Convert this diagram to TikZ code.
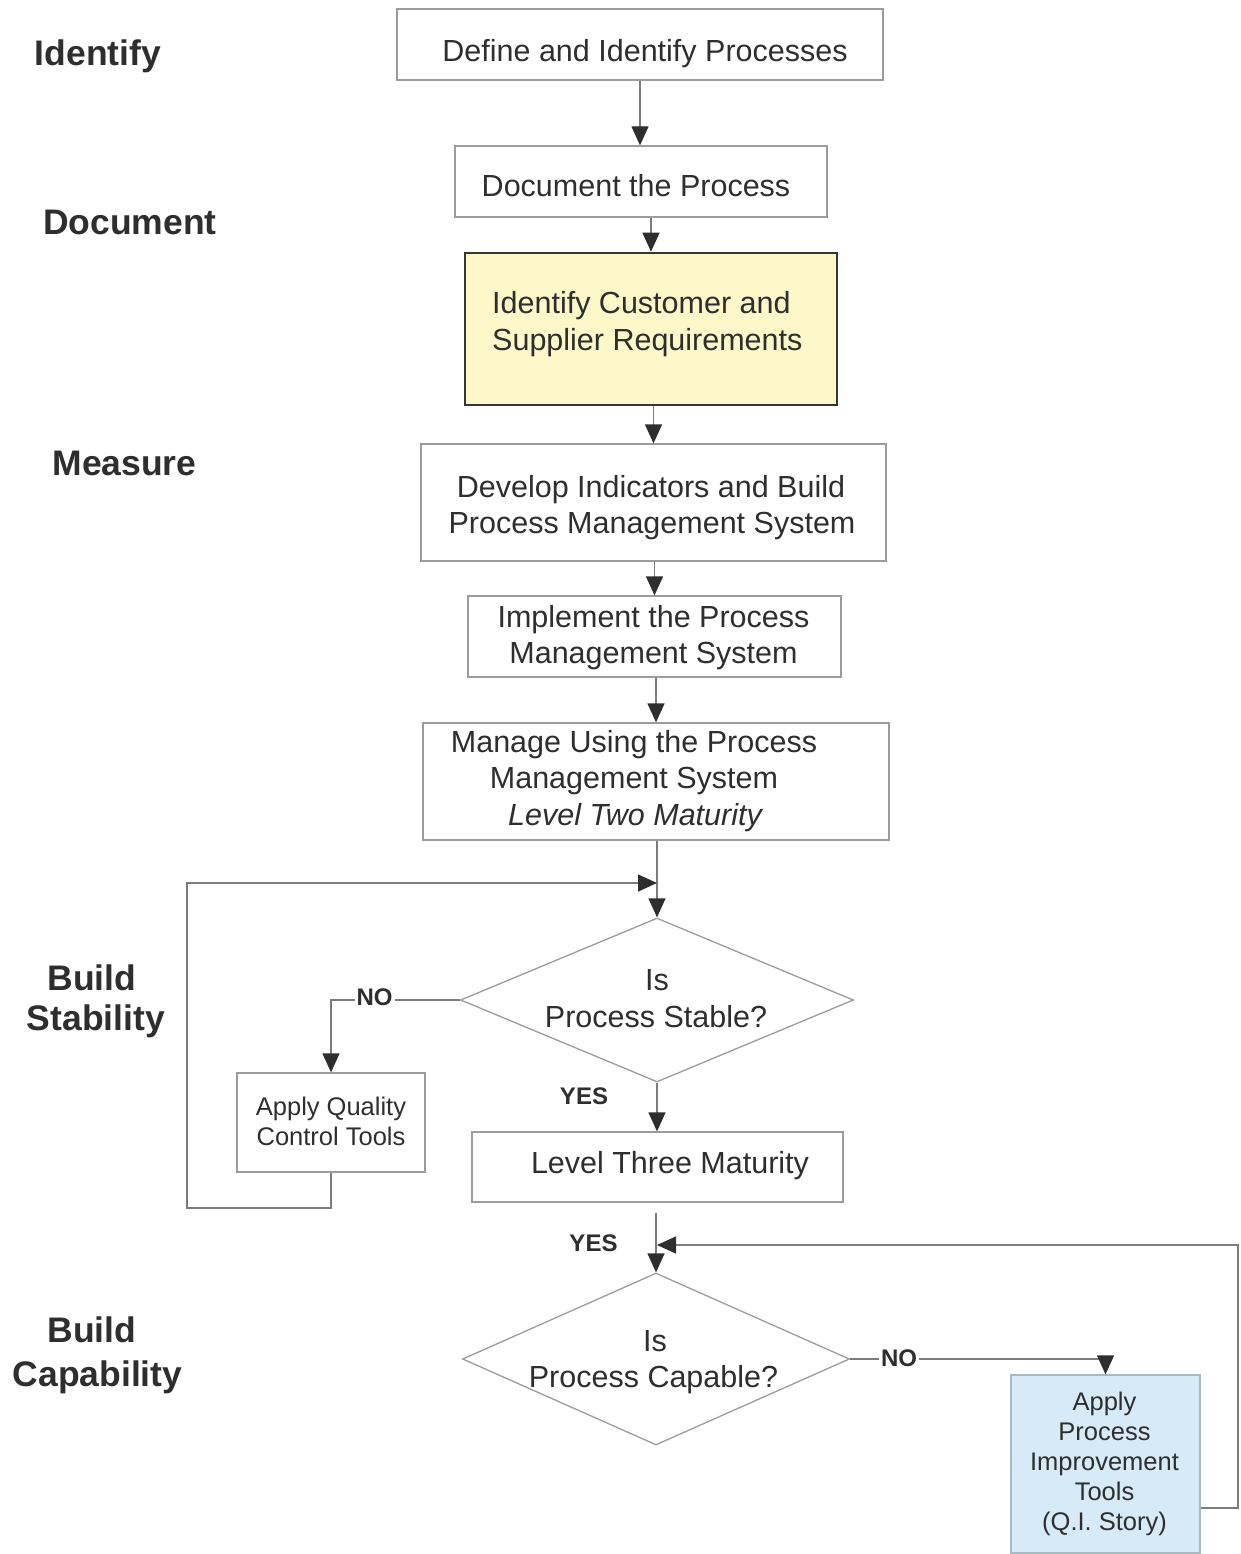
\documentclass[tikz,border=0pt]{standalone}
\usepackage{fontspec}
\setmainfont{Liberation Sans}
\usetikzlibrary{arrows.meta,shapes.geometric}

\definecolor{ink}{HTML}{2E2E2E}
\definecolor{frame}{HTML}{9C9C9C}
\definecolor{wire}{HTML}{7C7C7C}
\definecolor{reqline}{HTML}{363636}
\definecolor{reqfill}{HTML}{FCF8C9}
\definecolor{toolfill}{HTML}{D6EBF7}
\definecolor{toolline}{HTML}{A9B9C2}

\newcommand{\bodyfont}{\fontsize{30.5}{37}\selectfont}
\newcommand{\smallbody}{\fontsize{25.5}{30}\selectfont}
\newcommand{\phasefont}{\fontsize{35.5}{40}\selectfont\bfseries}
\newcommand{\tagfont}{\fontsize{24}{28}\selectfont\bfseries}

\begin{document}
\begin{tikzpicture}[x=1pt,y=-1pt,
  box/.style={rectangle,draw=frame,line width=1.3pt,inner sep=0pt},
  decision/.style={diamond,draw=frame,line width=1.3pt,inner sep=0pt},
  line/.style={draw=wire,line width=1.3pt},
  flow/.style={line,-{Triangle[width=17pt,length=19pt,color=ink]}},
  txt/.style={anchor=base,inner sep=0pt,text=ink,font=\bodyfont},
  small/.style={txt,font=\smallbody},
  phase/.style={anchor=base,inner sep=0pt,text=ink,font=\phasefont},
  tag/.style={inner sep=2pt,fill=white,text=ink,font=\tagfont}]

\useasboundingbox (0,0) rectangle (1241,1554);

% phase names down the left side
\node[phase] (pIdentify) at (98,66) {Identify};
\node[phase] (pDocument) at (130,235) {Document};
\node[phase] (pMeasure) at (124.5,475) {Measure};
\node[phase] (pStabA) at (92,990) {Build};
\node[phase] (pStabB) at (96,1030) {Stability};
\node[phase] (pCapA) at (92,1342) {Build};
\node[phase] (pCapB) at (97.5,1386) {Capability};

% process steps
\node[box,minimum width=486pt,minimum height=71pt] (define) at (640,44.5) {};
\node[txt] (defineT) at (645,62) {Define and Identify Processes};

\node[box,minimum width=372pt,minimum height=71pt] (doc) at (641,181.5) {};
\node[txt] (docT) at (636,197) {Document the Process};

\node[box,draw=reqline,line width=2.6pt,fill=reqfill,minimum width=372pt,minimum height=152pt] (req) at (651,329) {};
\node[txt,anchor=base west] (reqA) at (492,313) {Identify Customer and};
\node[txt,anchor=base west] (reqB) at (492,350) {Supplier Requirements};

\node[box,minimum width=465pt,minimum height=117pt] (ind) at (653.5,502.5) {};
\node[txt] (indA) at (651,497) {Develop Indicators and Build};
\node[txt] (indB) at (652,533) {Process Management System};

\node[box,minimum width=373pt,minimum height=81pt] (impl) at (654.5,636.5) {};
\node[txt] (implA) at (653.5,627) {Implement the Process};
\node[txt] (implB) at (653.5,663) {Management System};

\node[box,minimum width=466pt,minimum height=117pt] (manage) at (656,781.5) {};
\node[txt] (manageA) at (634,752) {Manage Using the Process};
\node[txt] (manageB) at (634,788) {Management System};
\node[txt] (manageC) at (635,825) {\itshape Level Two Maturity};

% stability decision and its loop
\node[decision,minimum width=393pt,minimum height=164pt] (stable) at (657,1000) {};
\node[txt] (stableA) at (657,990) {Is};
\node[txt] (stableB) at (656,1027) {Process Stable?};

\node[box,minimum width=188pt,minimum height=99pt] (qc) at (331,1122.5) {};
\node[small] (qcA) at (331,1115) {Apply Quality};
\node[small] (qcB) at (331,1145) {Control Tools};

\node[box,minimum width=371pt,minimum height=70pt] (lvl3) at (657.5,1167) {};
\node[txt] (lvl3T) at (670,1173) {Level Three Maturity};

% capability decision and its loop
\node[decision,minimum width=387pt,minimum height=172pt] (capable) at (656,1359) {};
\node[txt] (capableA) at (655,1351) {Is};
\node[txt] (capableB) at (653.5,1387) {Process Capable?};

\node[box,draw=toolline,fill=toolfill,minimum width=189pt,minimum height=178pt] (pit) at (1105.5,1464) {};
\node[small] (pitA) at (1104.5,1410) {Apply};
\node[small] (pitB) at (1104.5,1440) {Process};
\node[small] (pitC) at (1104.5,1470) {Improvement};
\node[small] (pitD) at (1104.5,1500) {Tools};
\node[small] (pitE) at (1104.5,1530) {(Q.I. Story)};

% connectors
\draw[flow] (define.south) -- (define.south |- doc.north);
\draw[flow] (doc.south -| req.north) -- (req.north);
\draw[flow] (req.south -| ind.north) -- (ind.north);
\draw[flow] (ind.south -| impl.north) -- (impl.north);
\draw[flow] (impl.south -| manage.north) -- (manage.north);
\draw[flow] (manage.south -| stable.north) -- (stable.north);

\coordinate (loopCorner) at (187,1208);
\coordinate (loopJoin) at (657,883);
\draw[flow] (qc.south) |- (loopCorner) |- (loopJoin);

\draw[flow] (stable.west) -| (qc.north);
\node[tag] (noStable) at (374.5,997) {NO};

\draw[flow] (stable.south) -- (stable.south |- lvl3.north);
\node[tag] (yesStable) at (584,1096.5) {YES};

\draw[flow,shorten <=10pt] (lvl3.south -| capable.north) -- (capable.north);
\node[tag] (yesCapable) at (593.5,1243.5) {YES};

\draw[flow] (capable.east) -| (pit.north);
\node[tag] (noCapable) at (899,1358) {NO};

\coordinate (fbCorner) at (1238,1508);
\coordinate (fbJoin) at (657,1245);
\draw[flow] (pit.east |- fbCorner) -- (fbCorner) |- (fbJoin);

\end{tikzpicture}
\end{document}
